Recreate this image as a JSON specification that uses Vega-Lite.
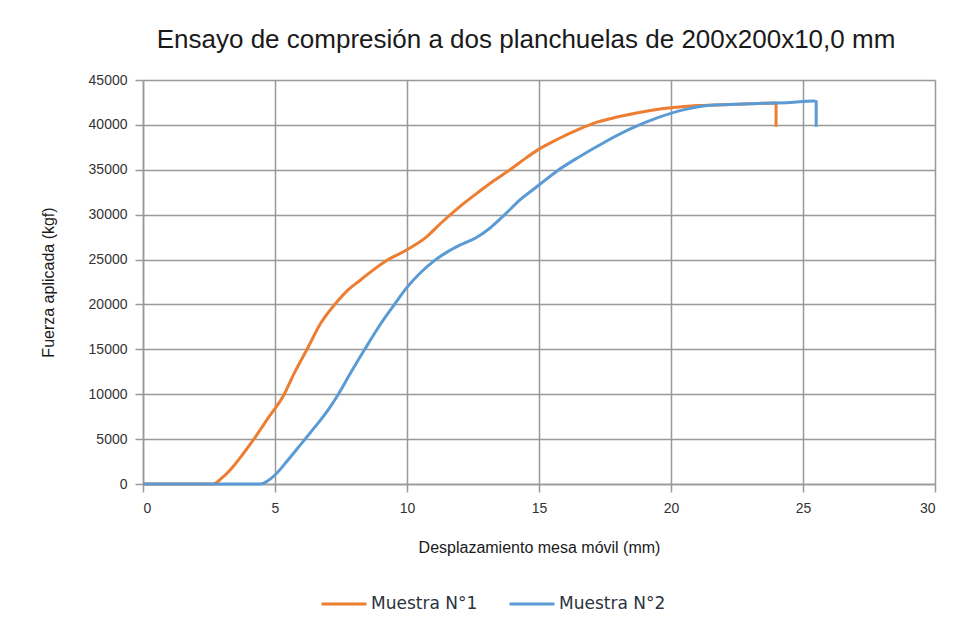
{
  "$schema": "https://vega.github.io/schema/vega-lite/v6.json",
  "autosize": "none",
  "width": 792,
  "height": 404,
  "padding": {"left": 143, "top": 80, "right": 22, "bottom": 149},
  "background": "white",
  "config": {
    "view": {"stroke": null},
    "font": "Liberation Sans"
  },
  "title": {
    "text": "Ensayo de compresión a dos planchuelas de 200x200x10,0 mm",
    "font": "Liberation Sans",
    "fontSize": 26,
    "fontWeight": "normal",
    "color": "#1a1a1a",
    "anchor": "middle",
    "dx": -13,
    "offset": 20
  },
  "datasets": {
    "curvas": [
      {"serie": "Muestra N°1", "i": 1, "d": 0, "f": 0},
      {"serie": "Muestra N°1", "i": 2, "d": 1, "f": 0},
      {"serie": "Muestra N°1", "i": 3, "d": 2, "f": 0},
      {"serie": "Muestra N°1", "i": 4, "d": 2.65, "f": 0},
      {"serie": "Muestra N°1", "i": 5, "d": 3.0, "f": 700},
      {"serie": "Muestra N°1", "i": 6, "d": 3.4, "f": 1900},
      {"serie": "Muestra N°1", "i": 7, "d": 3.8, "f": 3400},
      {"serie": "Muestra N°1", "i": 8, "d": 4.2, "f": 5000},
      {"serie": "Muestra N°1", "i": 9, "d": 4.73, "f": 7300},
      {"serie": "Muestra N°1", "i": 10, "d": 5.35, "f": 10000},
      {"serie": "Muestra N°1", "i": 11, "d": 5.72, "f": 12300},
      {"serie": "Muestra N°1", "i": 12, "d": 6.23, "f": 15100},
      {"serie": "Muestra N°1", "i": 13, "d": 6.73, "f": 17900},
      {"serie": "Muestra N°1", "i": 14, "d": 7.35, "f": 20300},
      {"serie": "Muestra N°1", "i": 15, "d": 7.8, "f": 21700},
      {"serie": "Muestra N°1", "i": 16, "d": 8.23, "f": 22700},
      {"serie": "Muestra N°1", "i": 17, "d": 8.7, "f": 23800},
      {"serie": "Muestra N°1", "i": 18, "d": 9.23, "f": 24900},
      {"serie": "Muestra N°1", "i": 19, "d": 10.0, "f": 26100},
      {"serie": "Muestra N°1", "i": 20, "d": 10.73, "f": 27500},
      {"serie": "Muestra N°1", "i": 21, "d": 11.3, "f": 29100},
      {"serie": "Muestra N°1", "i": 22, "d": 12.0, "f": 30900},
      {"serie": "Muestra N°1", "i": 23, "d": 12.7, "f": 32500},
      {"serie": "Muestra N°1", "i": 24, "d": 13.3, "f": 33800},
      {"serie": "Muestra N°1", "i": 25, "d": 13.9, "f": 35000},
      {"serie": "Muestra N°1", "i": 26, "d": 14.5, "f": 36300},
      {"serie": "Muestra N°1", "i": 27, "d": 15.0, "f": 37300},
      {"serie": "Muestra N°1", "i": 28, "d": 15.7, "f": 38400},
      {"serie": "Muestra N°1", "i": 29, "d": 16.5, "f": 39500},
      {"serie": "Muestra N°1", "i": 30, "d": 17.2, "f": 40300},
      {"serie": "Muestra N°1", "i": 31, "d": 18.0, "f": 40900},
      {"serie": "Muestra N°1", "i": 32, "d": 19.0, "f": 41500},
      {"serie": "Muestra N°1", "i": 33, "d": 20.0, "f": 41900},
      {"serie": "Muestra N°1", "i": 34, "d": 21.0, "f": 42150},
      {"serie": "Muestra N°1", "i": 35, "d": 22.0, "f": 42250},
      {"serie": "Muestra N°1", "i": 36, "d": 23.0, "f": 42350},
      {"serie": "Muestra N°1", "i": 37, "d": 23.98, "f": 42450},
      {"serie": "Muestra N°1", "i": 38, "d": 23.98, "f": 39800},
      {"serie": "Muestra N°2", "i": 1, "d": 0, "f": 0},
      {"serie": "Muestra N°2", "i": 2, "d": 2, "f": 0},
      {"serie": "Muestra N°2", "i": 3, "d": 4.0, "f": 0},
      {"serie": "Muestra N°2", "i": 4, "d": 4.45, "f": 0},
      {"serie": "Muestra N°2", "i": 5, "d": 4.7, "f": 300},
      {"serie": "Muestra N°2", "i": 6, "d": 5.0, "f": 1000},
      {"serie": "Muestra N°2", "i": 7, "d": 5.5, "f": 2700},
      {"serie": "Muestra N°2", "i": 8, "d": 6.0, "f": 4500},
      {"serie": "Muestra N°2", "i": 9, "d": 6.5, "f": 6300},
      {"serie": "Muestra N°2", "i": 10, "d": 7.0, "f": 8200},
      {"serie": "Muestra N°2", "i": 11, "d": 7.4, "f": 10000},
      {"serie": "Muestra N°2", "i": 12, "d": 7.85, "f": 12300},
      {"serie": "Muestra N°2", "i": 13, "d": 8.4, "f": 15000},
      {"serie": "Muestra N°2", "i": 14, "d": 8.95, "f": 17600},
      {"serie": "Muestra N°2", "i": 15, "d": 9.5, "f": 19900},
      {"serie": "Muestra N°2", "i": 16, "d": 10.0, "f": 21900},
      {"serie": "Muestra N°2", "i": 17, "d": 10.5, "f": 23500},
      {"serie": "Muestra N°2", "i": 18, "d": 11.0, "f": 24800},
      {"serie": "Muestra N°2", "i": 19, "d": 11.5, "f": 25800},
      {"serie": "Muestra N°2", "i": 20, "d": 12.0, "f": 26600},
      {"serie": "Muestra N°2", "i": 21, "d": 12.6, "f": 27400},
      {"serie": "Muestra N°2", "i": 22, "d": 13.1, "f": 28400},
      {"serie": "Muestra N°2", "i": 23, "d": 13.7, "f": 30000},
      {"serie": "Muestra N°2", "i": 24, "d": 14.3, "f": 31700},
      {"serie": "Muestra N°2", "i": 25, "d": 15.0, "f": 33300},
      {"serie": "Muestra N°2", "i": 26, "d": 15.7, "f": 34900},
      {"serie": "Muestra N°2", "i": 27, "d": 16.5, "f": 36400},
      {"serie": "Muestra N°2", "i": 28, "d": 17.5, "f": 38100},
      {"serie": "Muestra N°2", "i": 29, "d": 18.5, "f": 39600},
      {"serie": "Muestra N°2", "i": 30, "d": 19.5, "f": 40800},
      {"serie": "Muestra N°2", "i": 31, "d": 20.5, "f": 41700},
      {"serie": "Muestra N°2", "i": 32, "d": 21.5, "f": 42200},
      {"serie": "Muestra N°2", "i": 33, "d": 22.5, "f": 42300},
      {"serie": "Muestra N°2", "i": 34, "d": 23.5, "f": 42400},
      {"serie": "Muestra N°2", "i": 35, "d": 24.5, "f": 42500},
      {"serie": "Muestra N°2", "i": 36, "d": 25.4, "f": 42650},
      {"serie": "Muestra N°2", "i": 37, "d": 25.5, "f": 42600},
      {"serie": "Muestra N°2", "i": 38, "d": 25.5, "f": 39800}
    ]
  },
  "data": {"name": "curvas"},
  "mark": {"type": "line", "strokeWidth": 3, "interpolate": "monotone", "strokeCap": "butt"},
  "encoding": {
    "x": {
      "field": "d",
      "type": "quantitative",
      "scale": {"domain": [0, 30], "nice": false},
      "axis": {
        "title": "Desplazamiento mesa móvil (mm)",
        "values": [0, 5, 10, 15, 20, 25, 30],
        "format": "d",
        "grid": true,
        "gridColor": "#999999",
        "gridWidth": 1.5,
        "domainColor": "#999999",
        "domainWidth": 1.5,
        "tickColor": "#999999",
        "tickWidth": 1.5,
        "tickSize": 8,
        "labelPadding": 9,
        "labelFontSize": 14,
        "labelColor": "#333333",
        "titleFontSize": 16,
        "titleFontWeight": "normal",
        "titleColor": "#1a1a1a",
        "titlePadding": 24
      }
    },
    "y": {
      "field": "f",
      "type": "quantitative",
      "scale": {"domain": [0, 45000], "nice": false},
      "axis": {
        "title": "Fuerza aplicada (kgf)",
        "values": [0, 5000, 10000, 15000, 20000, 25000, 30000, 35000, 40000, 45000],
        "format": "d",
        "grid": true,
        "gridColor": "#999999",
        "gridWidth": 1.5,
        "domainColor": "#999999",
        "domainWidth": 1.5,
        "tickColor": "#999999",
        "tickWidth": 1.5,
        "tickSize": 8,
        "labelPadding": 8,
        "labelFontSize": 14,
        "labelColor": "#333333",
        "titleFontSize": 16,
        "titleFontWeight": "normal",
        "titleColor": "#1a1a1a",
        "titlePadding": 32
      }
    },
    "color": {
      "field": "serie",
      "type": "nominal",
      "scale": {"domain": ["Muestra N°1", "Muestra N°2"], "range": ["#ED7D31", "#5B9BD5"]},
      "legend": {
        "title": null,
        "orient": "none",
        "direction": "horizontal",
        "legendX": 177,
        "legendY": 500,
        "symbolType": "stroke",
        "symbolSize": 2025,
        "symbolStrokeWidth": 3,
        "labelFont": "DejaVu Sans",
        "labelFontSize": 17,
        "labelColor": "#2b3340",
        "labelOffset": 3,
        "columnPadding": 25
      }
    },
    "order": {"field": "i", "type": "quantitative"}
  }
}
